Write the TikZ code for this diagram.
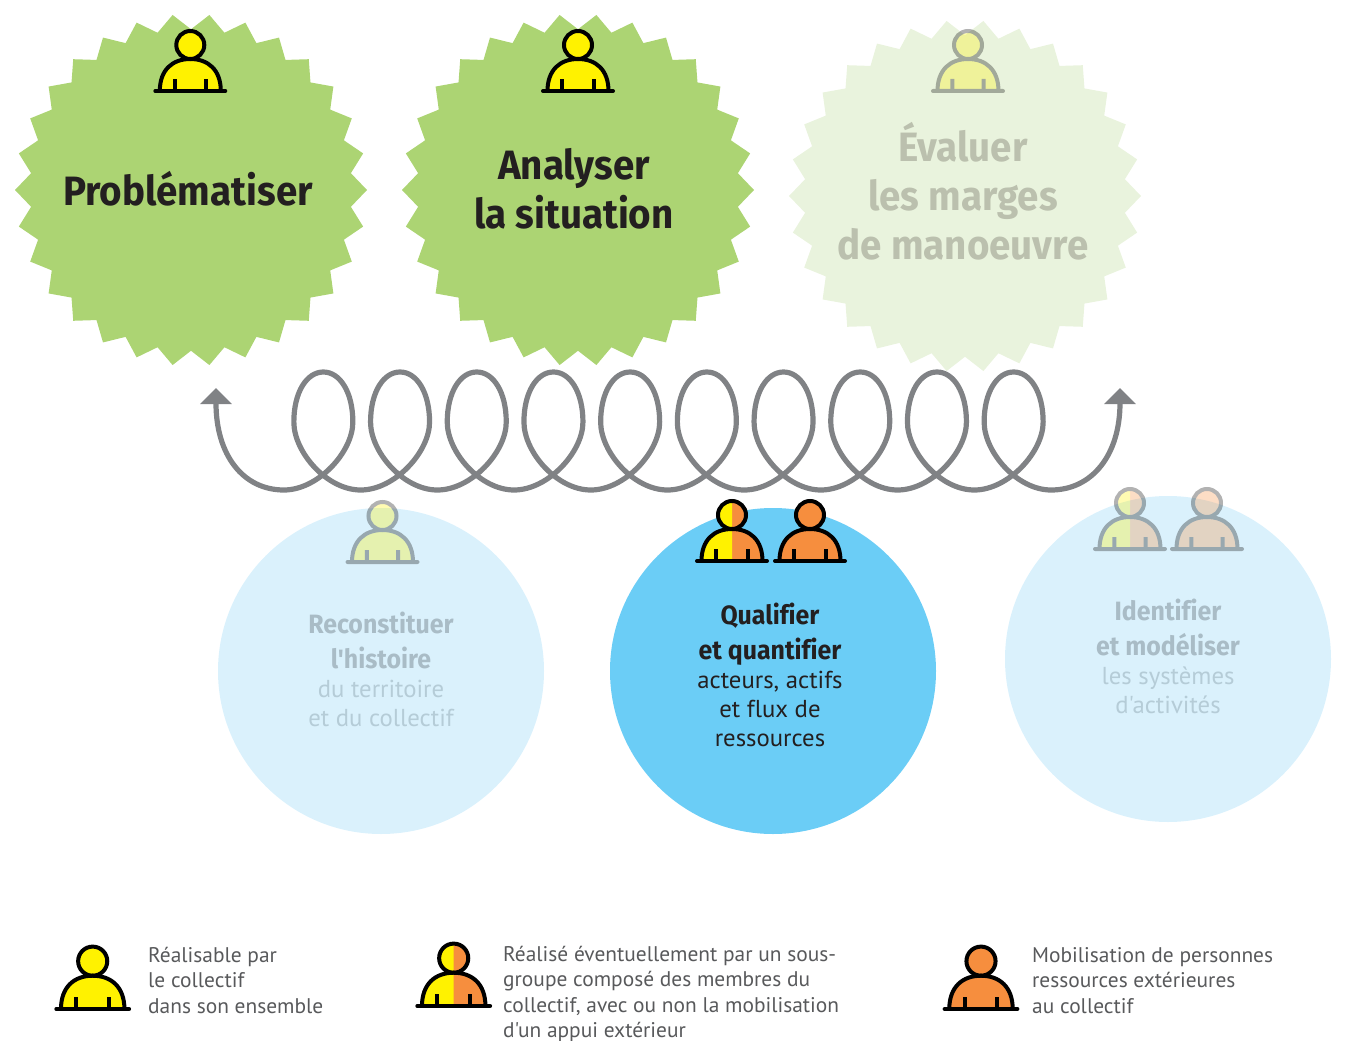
\documentclass[tikz,border=0pt]{standalone}
\usepackage{fontspec}
\usetikzlibrary{shapes.geometric,arrows.meta}
\setmainfont{Fira Sans}
\newfontfamily\titlefont[FakeStretch=0.94,Ligatures=NoCommon]{Fira Sans}
\newfontfamily\bodyfont[FakeStretch=1.01,Ligatures=NoCommon]{PT Sans}
\definecolor{stargreen}{HTML}{ACD473}
\definecolor{starpale}{HTML}{E9F3DD}
\definecolor{circpale}{HTML}{DAF1FC}
\definecolor{circblue}{HTML}{6BCDF6}
\definecolor{coilgray}{HTML}{808285}
\definecolor{ykit}{HTML}{FFF200}
\definecolor{okit}{HTML}{F68E3E}
\definecolor{inkdark}{HTML}{231F20}
\definecolor{starfade}{HTML}{BBC0AE}
\definecolor{circfadeb}{HTML}{A9BCC6}
\definecolor{circfade}{HTML}{B5CCD7}
\definecolor{legendgray}{HTML}{58595B}
\newcommand{\discbold}{\titlefont\bfseries\fontsize{26.5}{29}\selectfont}
\newcommand{\bodyoutline}{(-30.5,0) .. controls (-30.5,-21) and (-18,-32) .. (0,-32) .. controls (18,-32) and (30.5,-21) .. (30.5,0)}
\tikzset{
  burst/.style={star,star points=30,star point ratio=1.095,shape border rotate=90,minimum size=352pt,inner sep=0pt,draw=none},
  disc/.style={circle,minimum size=326pt,inner sep=0pt,draw=none},
  bigtitle/.style={inner sep=0pt,align=center,font=\titlefont\bfseries\fontsize{41}{49}\selectfont},
  disctext/.style={inner sep=0pt,align=center,anchor=north,font=\bodyfont\fontsize{24.5}{29}\selectfont},
  legendtext/.style={inner sep=0pt,align=left,anchor=north west,text=legendgray,font=\bodyfont\fontsize{21.2}{25.4}\selectfont},
  faded/.style={transparency group,opacity=0.3},
  coil/.style={draw=coilgray,line width=5.2pt,{Triangle[width=31pt,length=16pt]}-{Triangle[width=31pt,length=16pt]}},
  pics/person/.style 2 args={code={
    \fill[#2] \bodyoutline -- cycle;
    \fill[#2] (0,-46) circle[radius=14];
    \begin{scope}
      \clip (-40,-70) rectangle (0,5);
      \fill[#1] \bodyoutline -- cycle;
      \fill[#1] (0,-46) circle[radius=14];
    \end{scope}
    \draw[black,line width=4pt] \bodyoutline;
    \draw[black,line width=4pt] (0,-46) circle[radius=14];
    \draw[black,line width=4pt] (-15.7,0) -- (-15.7,-12) (15.7,0) -- (15.7,-12);
    \draw[black,line width=4pt,line cap=round] (-35,0) -- (35,0);
  }}
}
\newcommand{\coilstep}[1]{
  .. controls ({318+#1*76.7},490) and ({352.85+#1*76.7},452) .. ({352.85+#1*76.7},422)
  .. controls ({352.85+#1*76.7},392) and ({339.85+#1*76.7},372) .. ({323.35+#1*76.7},372)
  .. controls ({306.85+#1*76.7},372) and ({293.85+#1*76.7},392) .. ({293.85+#1*76.7},422)
  .. controls ({293.85+#1*76.7},452) and ({326.7+#1*76.7},490) .. ({360.7+#1*76.7},490)
}
\begin{document}
\begin{tikzpicture}[x=1pt,y=-1pt]
\useasboundingbox (0,0) rectangle (1345,1041);
% stars
\node[burst,fill=stargreen] (s1) at (191,190) {};
\node[burst,fill=stargreen] (s2) at (578,190) {};
\node[burst,fill=starpale] (s3) at (965,196) {};
\pic at (190.3,91) {person={ykit}{ykit}};
\pic at (578,91) {person={ykit}{ykit}};
\begin{scope}[faded]
\pic at (968,91) {person={ykit}{ykit}};
\end{scope}
\node[bigtitle,text=inkdark] (t1) at (188,189) {Problématiser};
\node[bigtitle,text=inkdark] (t2) at (574,189) {Analyser\\la situation};
\node[bigtitle,text=starfade] (t3) at (963,191) {Évaluer\\les marges\\de manoeuvre};
% coil
\coordinate (coilL) at (216,388);
\coordinate (coilR) at (1120,388);
\draw[coil] (coilL) .. controls (216,455) and (243,490) .. (284,490)
  \coilstep{0} \coilstep{1} \coilstep{2} \coilstep{3} \coilstep{4}
  \coilstep{5} \coilstep{6} \coilstep{7} \coilstep{8} \coilstep{9}
  .. controls (1092,490) and (1120,455) .. (coilR);
% circles
\node[disc,fill=circpale] (c1) at (381,671) {};
\node[disc,fill=circblue] (c2) at (773,671) {};
\node[disc,fill=circpale] (c3) at (1168,659) {};
\begin{scope}[faded]
\pic at (382.5,562) {person={ykit}{ykit}};
\end{scope}
\pic at (732,561) {person={ykit}{okit}};
\pic at (810,561) {person={okit}{okit}};
\begin{scope}[faded]
\pic at (1130,549) {person={ykit}{okit}};
\end{scope}
\begin{scope}[faded]
\pic at (1207,549) {person={okit}{okit}};
\end{scope}
\node[disctext,text=circfade] (d1) at (381,612) {\textcolor{circfadeb}{\discbold Reconstituer}\\[6pt]\textcolor{circfadeb}{\discbold l'histoire}\\du territoire\\et du collectif};
\node[disctext,text=inkdark] (d2) at (770,603) {{\discbold Qualifier}\\[6pt]{\discbold et quantifier}\\acteurs, actifs\\et flux de\\ressources};
\node[disctext,text=circfade] (d3) at (1168,599) {\textcolor{circfadeb}{\discbold Identifier}\\[6pt]\textcolor{circfadeb}{\discbold et modéliser}\\les systèmes\\d'activités};
% legend
\pic[scale=1.04] at (92.7,1009) {person={ykit}{ykit}};
\pic[scale=1.04] at (453.7,1006) {person={ykit}{okit}};
\pic[scale=1.04] at (981,1009) {person={okit}{okit}};
\node[legendtext] (l1) at (148,947) {Réalisable par\\le collectif\\dans son ensemble};
\node[legendtext] (l2) at (503,946) {Réalisé éventuellement par un sous-\\groupe composé des membres du\\collectif, avec ou non la mobilisation\\d'un appui extérieur};
\node[legendtext] (l3) at (1032,947) {Mobilisation de personnes\\ressources extérieures\\au collectif};
\end{tikzpicture}
\end{document}
